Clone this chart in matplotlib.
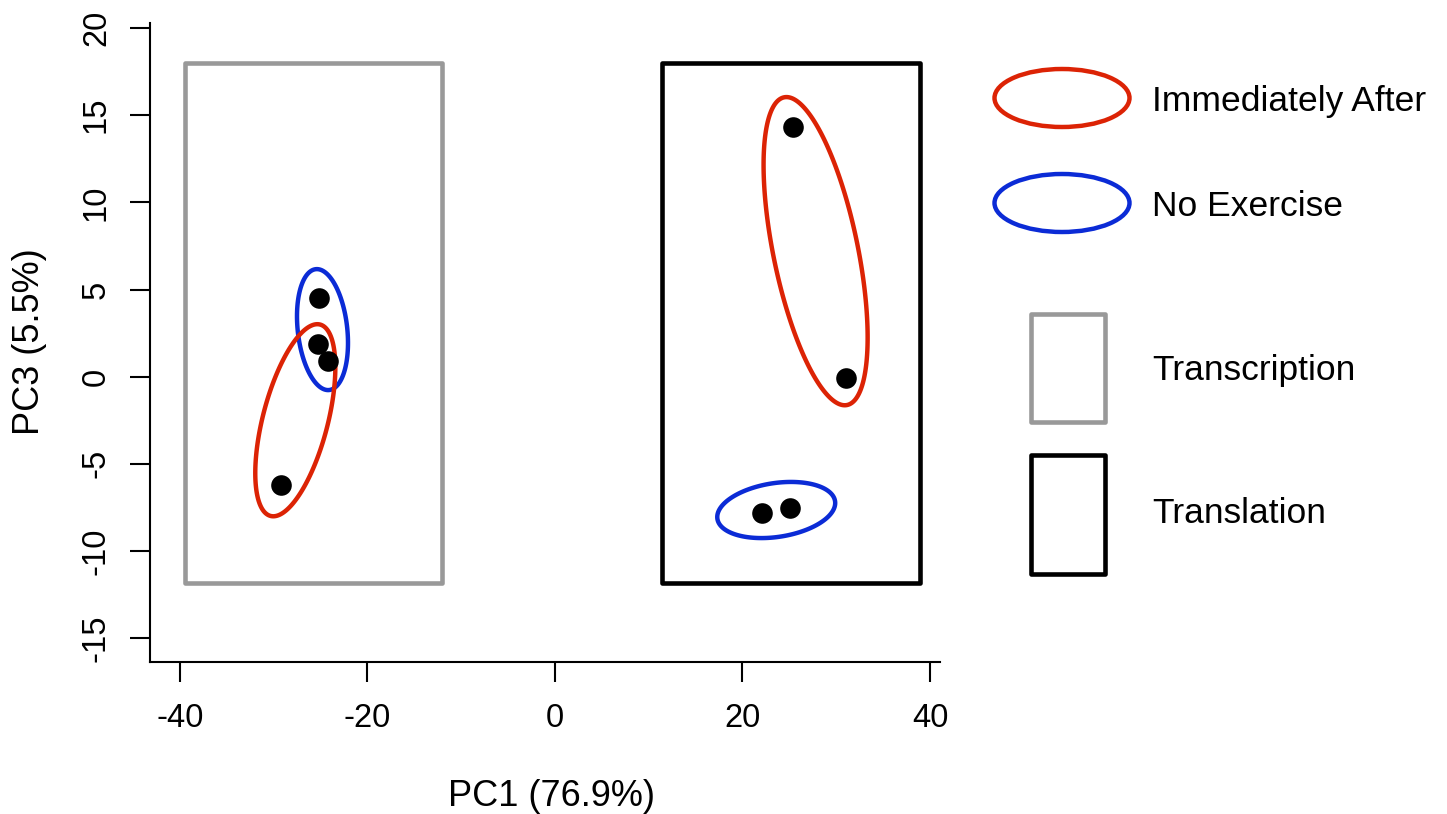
import numpy as np
import matplotlib.pyplot as plt
from matplotlib.patches import Rectangle, Ellipse, Polygon

plt.rcParams['font.family'] = ['Liberation Sans', 'DejaVu Sans']
plt.rcParams['axes.unicode_minus'] = False

RED = '#dc2305'
BLUE = '#0b2bd6'
GRAY = '#999999'

# sample scores
pc1 = [-25.2, -25.3, -24.2, -29.2, 25.4, 31.0, 22.05, 25.1]
pc3 = [4.5, 1.9, 0.9, -6.2, 14.3, -0.1, -7.8, -7.55]

# group ellipses: centre, half extent in x / y, cos of phase shift (tilt)
ell_cx = [-24.8, -27.7, 27.8, 23.6]
ell_cy = [2.7, -2.5, 7.2, -7.65]
ell_a = [2.72, 4.27, 5.55, 6.29]
ell_b = [3.47, 5.51, 8.84, 1.61]
ell_tilt = [-0.22, 0.55, -0.56, 0.25]
ell_group = ["No Exercise", "Immediately After", "Immediately After", "No Exercise"]

# boxes around transcription / translation samples
box_x0 = [-39.5, 11.4]
box_x1 = [-12.05, 38.9]
box_y0 = [-11.85, -11.85]
box_y1 = [18.0, 18.0]
box_group = ["Transcription", "Translation"]

group_colors = {"Immediately After": RED, "No Exercise": BLUE,
                "Transcription": GRAY, "Translation": "black"}

W, H = 1447, 814
fig = plt.figure(figsize=(W / 100, H / 100), dpi=100)
ax = fig.add_axes([150 / W, 1 - 662 / H, 790 / W, 639 / H])
ax.set_xlim(-43.2, 41.07)
ax.set_ylim(-16.37, 20.29)

for x0, x1, y0, y1, g in zip(box_x0, box_x1, box_y0, box_y1, box_group):
    ax.add_patch(Rectangle((x0, y0), x1 - x0, y1 - y0, fill=False,
                           edgecolor=group_colors[g], lw=3.3, joinstyle='round'))

t = np.linspace(0, 2 * np.pi, 300, endpoint=False)
for cx, cy, a, b, c, g in zip(ell_cx, ell_cy, ell_a, ell_b, ell_tilt, ell_group):
    d = np.arccos(c)
    xy = np.column_stack([cx + a * np.cos(t), cy + b * np.cos(t - d)])
    ax.add_patch(Polygon(xy, closed=True, fill=False, edgecolor=group_colors[g], lw=3.2))

ax.scatter(pc1, pc3, s=220, color='black', zorder=5, linewidths=0)

ax.spines['top'].set_visible(False)
ax.spines['right'].set_visible(False)
ax.spines['left'].set_linewidth(1.5)
ax.spines['bottom'].set_linewidth(1.5)
ax.set_xticks([-40, -20, 0, 20, 40])
ax.set_yticks([-15, -10, -5, 0, 5, 10, 15, 20])
ax.tick_params(direction='out', length=14.4, width=1.5, labelsize=23.5)
ax.tick_params(axis='x', pad=15)
ax.tick_params(axis='y', pad=13, labelrotation=90)
for lab in ax.get_yticklabels():
    lab.set_va('center')

fig.text(552 / W, 1 - 793 / H, "PC1 (76.9%)", fontsize=26, ha='center', va='center_baseline')
fig.text(30 / W, 1 - 342 / H, "PC3 (5.5%)", fontsize=26, ha='center', va='center',
         rotation=90)

# legend drawn in figure pixel space
lax = fig.add_axes([0, 0, 1, 1])
lax.set_xlim(0, W)
lax.set_ylim(H, 0)
lax.axis('off')

leg_y = [98, 203]
for g, y in zip(["Immediately After", "No Exercise"], leg_y):
    lax.add_patch(Ellipse((1062, y), 135, 58, fill=False, edgecolor=group_colors[g], lw=3.2))
    lax.text(1152, y, g, fontsize=25.5, va='center_baseline', ha='left')

box_top = [314, 455]
box_h = [108, 119]
box_text_y = [367, 510]
for g, top, h, ty in zip(box_group, box_top, box_h, box_text_y):
    lax.add_patch(Rectangle((1031, top), 74, h, fill=False,
                            edgecolor=group_colors[g], lw=3.3, joinstyle='round'))
    lax.text(1152, ty, g, fontsize=25.5, va='center_baseline', ha='left')

fig.savefig('out.png', dpi=100)
